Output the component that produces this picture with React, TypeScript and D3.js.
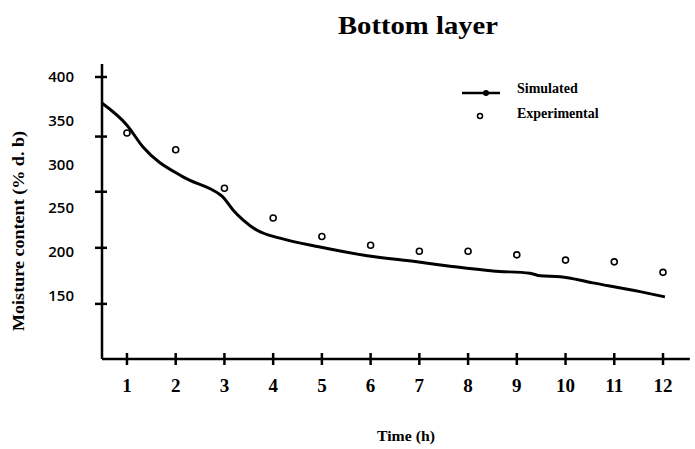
import React, { useEffect, useRef } from 'react';
import * as d3 from 'd3';

// simulated curve
const simTime = [0.49, 1.0, 1.33, 2.15, 2.85, 2.95, 3.18, 3.38, 3.67, 4.14, 4.96, 5.93, 6.95, 7.63, 8.51, 9.27, 9.48, 9.89, 10.56, 11.53, 12.04];
const simValue = [370, 345, 320, 286, 268, 264, 248, 237, 225, 216, 206, 196, 189, 184, 178.5, 176, 173, 172, 165, 155, 149];

// experimental points
const expTime = [1, 2, 3, 4, 5, 6, 7, 8, 9, 10, 11, 12];
const expValue = [336, 317, 273, 239, 218, 208, 201, 201, 197, 191, 189, 177];

const xTicks = [1, 2, 3, 4, 5, 6, 7, 8, 9, 10, 11, 12];
const yLabels = [400, 350, 300, 250, 200, 150];
// tick marks on the y axis do not sit on the labels in the original
const yTickMarks = [400, 332, 269, 205, 141];

const App = () => {
  const svgRef = useRef(null);

  useEffect(() => {
    const width = 695;
    const height = 449;
    const serif = '"Liberation Serif", "Times New Roman", serif';

    const svg = d3.select(svgRef.current);
    svg.selectAll('*').remove();
    svg.attr('width', width).attr('height', height);

    const x = d3.scaleLinear().domain([0.5, 12.55]).range([102.6, 689.8]);
    const y = d3.scaleLinear().domain([150, 400]).range([296, 77]);

    const axisY = 359;
    const axisX = 102;

    // title
    svg.append('text')
      .attr('x', 418)
      .attr('y', 34)
      .attr('text-anchor', 'middle')
      .attr('textLength', 160)
      .attr('lengthAdjust', 'spacingAndGlyphs')
      .style('font-family', serif)
      .style('font-weight', 'bold')
      .style('font-size', '25px')
      .text('Bottom layer');

    // axes lines
    svg.append('line')
      .attr('x1', axisX).attr('x2', axisX)
      .attr('y1', 64).attr('y2', axisY)
      .attr('stroke', '#000').attr('stroke-width', 2.5);
    svg.append('line')
      .attr('x1', axisX).attr('x2', x(12.55))
      .attr('y1', axisY).attr('y2', axisY)
      .attr('stroke', '#000').attr('stroke-width', 2.5);

    // y tick marks
    svg.selectAll('.ytick')
      .data(yTickMarks)
      .enter()
      .append('line')
      .attr('x1', 95).attr('x2', 107)
      .attr('y1', d => y(d)).attr('y2', d => y(d))
      .attr('stroke', '#000').attr('stroke-width', 2.5);

    // y labels
    svg.selectAll('.ylab')
      .data(yLabels)
      .enter()
      .append('text')
      .attr('x', 74)
      .attr('y', d => y(d) + 5)
      .attr('text-anchor', 'end')
      .style('font-family', '"Open Sans", sans-serif')
      .style('font-weight', 600)
      .style('font-size', '15px')
      .text(d => d);

    // x ticks
    svg.selectAll('.xtick')
      .data(xTicks)
      .enter()
      .append('line')
      .attr('x1', d => x(d)).attr('x2', d => x(d))
      .attr('y1', axisY - 6).attr('y2', axisY + 6)
      .attr('stroke', '#000').attr('stroke-width', 2.5);

    svg.selectAll('.xlab')
      .data(xTicks)
      .enter()
      .append('text')
      .attr('x', d => x(d))
      .attr('y', 392)
      .attr('text-anchor', 'middle')
      .style('font-family', serif)
      .style('font-weight', 'bold')
      .style('font-size', '19px')
      .text(d => d);

    // axis titles
    svg.append('text')
      .attr('x', 406)
      .attr('y', 441)
      .attr('text-anchor', 'middle')
      .attr('textLength', 58)
      .attr('lengthAdjust', 'spacingAndGlyphs')
      .style('font-family', serif)
      .style('font-weight', 'bold')
      .style('font-size', '14px')
      .text('Time (h)');

    svg.append('text')
      .attr('transform', 'translate(24,231) rotate(-90)')
      .attr('text-anchor', 'middle')
      .attr('textLength', 200)
      .attr('lengthAdjust', 'spacingAndGlyphs')
      .style('font-family', serif)
      .style('font-weight', 'bold')
      .style('font-size', '16px')
      .text('Moisture content (% d. b)');

    // simulated line
    const line = d3.line<number>()
      .x((d, i) => x(simTime[i]))
      .y(d => y(d))
      .curve(d3.curveMonotoneX);
    svg.append('path')
      .datum(simValue)
      .attr('d', line)
      .attr('fill', 'none')
      .attr('stroke', '#000')
      .attr('stroke-width', 3)
      .attr('stroke-linejoin', 'round');

    // experimental points
    svg.selectAll('.exp')
      .data(expValue)
      .enter()
      .append('circle')
      .attr('cx', (d, i) => x(expTime[i]))
      .attr('cy', d => y(d))
      .attr('r', 3)
      .attr('fill', '#fff')
      .attr('stroke', '#000')
      .attr('stroke-width', 1.6);

    // legend
    const legend = svg.append('g');
    legend.append('line')
      .attr('x1', 462).attr('x2', 500)
      .attr('y1', 93).attr('y2', 93)
      .attr('stroke', '#000').attr('stroke-width', 2.5);
    legend.append('circle')
      .attr('cx', 486).attr('cy', 93).attr('r', 3)
      .attr('fill', '#000');
    legend.append('circle')
      .attr('cx', 480).attr('cy', 116).attr('r', 2.5)
      .attr('fill', '#fff').attr('stroke', '#000').attr('stroke-width', 1.5);

    const legendLabels = ['Simulated', 'Experimental'];
    legend.selectAll('.lt')
      .data(legendLabels)
      .enter()
      .append('text')
      .attr('x', 517)
      .attr('y', (d, i) => 93 + i * 25)
      .style('font-family', serif)
      .style('font-weight', 'bold')
      .style('font-size', '14px')
      .text(d => d);
  }, []);

  return (
    <svg ref={svgRef} style={{ position: 'absolute', left: 0, top: 0 }}></svg>
  );
};

export default App;
